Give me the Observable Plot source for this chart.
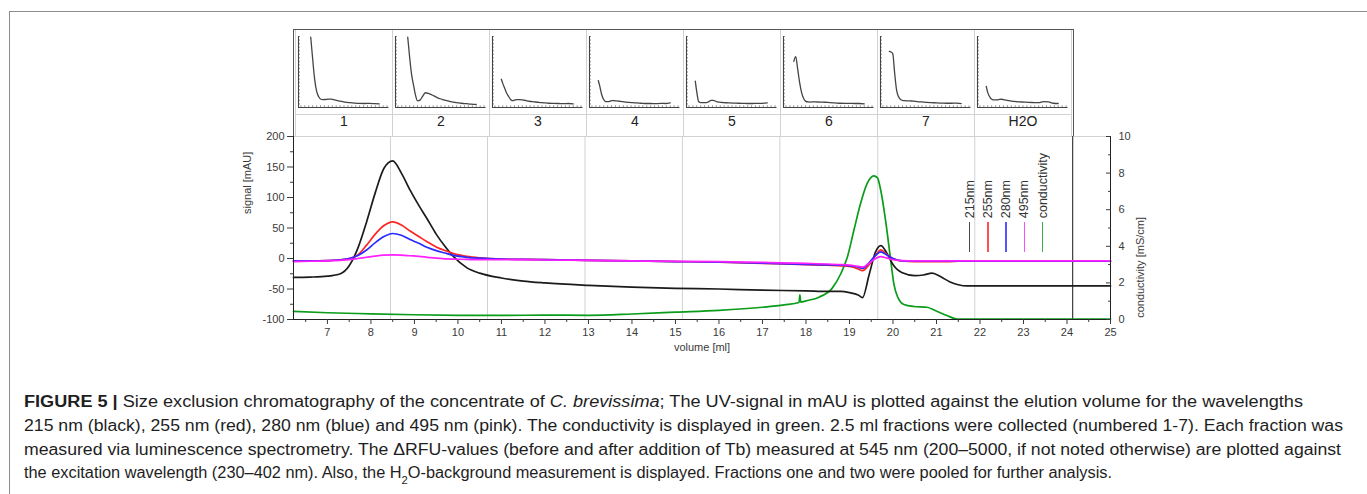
<!DOCTYPE html>
<html><head><meta charset="utf-8">
<script src="https://cdn.jsdelivr.net/npm/d3@7"></script>
<script src="https://cdn.jsdelivr.net/npm/@observablehq/plot@0.6"></script>
<style>
body{margin:0;background:#fff;width:1367px;height:494px;overflow:hidden;position:relative;font-family:"Liberation Sans",Arial,sans-serif;}
#figframe{position:absolute;left:9px;top:11px;width:1400px;height:600px;border:1px solid #8c8c8c;}
#mainwrap,#topwrap,#legend,#cap{position:absolute;left:0;top:0}
#topwrap{left:293px;top:29px}
#topborder{position:absolute;left:293px;top:29px;width:781px;height:107px;border-top:1px solid #555;border-left:1px solid #555;border-right:1px solid #555;box-sizing:border-box}
.lg-line{position:absolute;width:1.6px;height:30px;top:222px}
.lg-text{position:absolute;writing-mode:vertical-rl;transform:rotate(180deg);font-size:12.5px;line-height:14px;color:#333;white-space:nowrap}
</style></head><body>
<div id="figframe"></div>
<div id="mainwrap"></div>
<div id="topwrap"></div>
<div id="topborder"></div>
<div id="legend"></div>
<div id="cap"></div>
<script>
// ---------- data ----------
const fracLabels = ["1","2","3","4","5","6","7","H2O"];
const fracBounds = [6.22, 8.45, 10.68, 12.92, 15.16, 17.4, 19.65, 21.88, 24.13];

// mini spectra: excitation wavelength (nm) vs ΔRFU
const exWl = [243,246,250,254,258,262,266,270,275,280,286,292,300,310,320,330,340,350,360,370,380,390];
const rfu1 = [null,null,4950,3400,2000,1150,775,600,560,565,590,590,520,450,380,340,310,290,280,290,270,250];
const rfu2 = [null,null,4950,3500,2300,1550,850,470,520,760,1040,1000,880,700,580,480,400,350,300,270,240,220];
const rfu3 = [1990,1700,1350,1000,775,560,480,520,560,560,540,500,440,400,360,330,300,290,280,270,280,250];
const rfu4 = [1900,1500,900,560,420,410,430,480,480,460,440,420,380,350,320,300,280,280,270,290,280,320];
const rfu5 = [1850,1100,400,340,340,350,350,400,500,500,420,380,350,330,310,300,290,280,280,290,290,320];
const rfu6 = [null,3250,3580,2700,1750,1050,650,450,390,380,400,390,380,370,340,320,300,290,290,280,280,250];
const rfu7 = [3950,3920,3800,2400,1200,750,560,500,480,470,460,450,420,390,360,340,320,310,300,300,310,280];
const rfuH2O = [1480,1050,750,580,540,530,540,570,580,540,500,470,430,400,380,360,350,340,420,400,300,280];
const miniDomainX = [225, 410];
const miniDomainY = [0, 5000];

// main chromatogram: volume (ml) vs signal (mAU)
const vol = [6.22,6.6,7.0,7.3,7.5,7.7,7.9,8.1,8.3,8.5,8.7,8.9,9.1,9.3,9.5,9.7,9.9,10.2,10.5,11,11.5,12,13,14,15,16,17,18,18.5,18.8,19.0,19.2,19.3,19.45,19.6,19.72,19.85,20.0,20.2,20.5,20.7,20.9,21.1,21.3,21.5,21.7,22,23,24,25];
const a215 = [-31,-30.5,-29,-25,-12,17,60,108,148,160,140,112,87,64,40,20,3,-15,-24,-32,-37,-40,-44,-47,-49,-50,-52,-53,-54,-54,-56,-60,-64,-27,11,21,10,-10,-23,-28,-27,-24,-30,-38,-43,-45,-45,-45,-45,-45];
const a255 = [-4,-4,-3.5,-2,0,6,22,40,54,60,55,45,36,27,19,13,8,3.5,1,-1,-1.5,-2,-3,-4,-5,-6,-8,-10,-11,-12,-13,-17,-20,-10,5,14,7,0,-4,-5,-5,-5,-5,-5,-4.5,-4.5,-4.5,-4.5,-4.5,-4.5];
const a280 = [-4,-4,-3.5,-2,0,5,14,26,36,41,38,31,25,18,13,9,5,2,0.5,-1,-1.5,-2,-3,-4,-5,-6,-7.5,-9.5,-10.5,-11,-12,-14,-16,-7,5,11,6,0,-4,-4.5,-4.5,-4.5,-4.5,-4.5,-4.5,-4.5,-4.5,-4.5,-4.5,-4.5];
const a495 = [-5,-4.5,-4,-3,-2,0,2,4,5.5,6,5.5,4.5,3.5,2,0.5,-0.5,-1,-1.5,-2,-2,-2,-2.5,-3,-4,-4.5,-5,-6.5,-8,-9,-10,-11,-13,-14,-8,0,3,1,-2,-3.5,-4,-4,-4,-4,-4,-4,-4,-4,-4,-4,-4];
// conductivity (mS/cm), right axis
const condVol = [6.22,7,8,9,10,11,12,13,14,15,16,17,17.5,17.84,17.86,17.88,18,18.3,18.6,18.8,18.95,19.1,19.25,19.4,19.56,19.64,19.72,19.83,19.95,20.02,20.11,20.25,20.48,20.78,20.97,21.24,21.47,22,25];
const cond = [0.44,0.37,0.31,0.26,0.23,0.22,0.24,0.23,0.3,0.4,0.5,0.67,0.8,0.93,1.35,0.95,1.02,1.22,1.7,2.5,3.4,4.86,6.3,7.4,7.85,7.75,7.05,5.4,3.2,1.95,1.22,0.82,0.71,0.67,0.49,0.22,0.02,0.02,0.02];

const seriesNames = ["215nm","255nm","280nm","495nm","conductivity"];
const seriesColors = ["#1b1b1b","#ff2424","#2a2aff","#ff1fff","#0a9c1a"];
const yTicks = [-100,-50,0,50,100,150,200];
const yMinor = [-75,-25,25,75,125,175];
const xTicks = d3.range(7, 26);
const xMinor = d3.range(6.5, 25, 1);
const condTicks = [0,2,4,6,8,10];
const condMinor = [1,3,5,7,9];
const signalDomain = [-100, 200];
const condDomain = [0, 10];
const volDomain = [6.22, 25];

// ---------- helpers ----------
const FONT = "'Liberation Sans', Arial, sans-serif";
const condToSignal = c => signalDomain[0] + (c - condDomain[0]) * (signalDomain[1] - signalDomain[0]) / (condDomain[1] - condDomain[0]);
const signalToCond = s => Math.round(condDomain[0] + (s - signalDomain[0]) * (condDomain[1] - condDomain[0]) / (signalDomain[1] - signalDomain[0]));
const noLabel = () => "";

const uvSeries = [a215, a255, a280, a495];
const uvRows = uvSeries.flatMap((arr, k) => arr.map((v, i) => ({vol: vol[i], v, s: seriesNames[k]})));
const condRows = cond.map((c, i) => ({vol: condVol[i], c}));

const rfuAll = [rfu1, rfu2, rfu3, rfu4, rfu5, rfu6, rfu7, rfuH2O];
const miniRows = rfuAll.flatMap((arr, k) => arr.map((v, i) => ({frac: fracLabels[k], wl: exWl[i], v})));

// ---------- main chart ----------
const mainChart = Plot.plot({
  width: 1367, height: 370,
  marginLeft: 293, marginRight: 257, marginTop: 136, marginBottom: 51,
  style: {background: "transparent", fontFamily: FONT, fontSize: "11px", color: "#3a3a3a", overflow: "visible"},
  x: {domain: volDomain, label: null},
  y: {domain: signalDomain, label: null},
  color: {domain: seriesNames, range: seriesColors},
  marks: [
    Plot.ruleX(fracBounds.slice(1, -1), {stroke: "#d2d2d2", strokeWidth: 1}),
    Plot.ruleY([signalDomain[1]], {stroke: "#d2d2d2"}),
    Plot.ruleX([fracBounds[fracBounds.length - 1]], {stroke: "#3c3c3c", strokeWidth: 1.2}),
    Plot.line(condRows, {x: "vol", y: d => condToSignal(d.c), stroke: seriesColors[4], strokeWidth: 1.7, curve: "monotone-x"}),
    Plot.line(uvRows, {x: "vol", y: "v", z: "s", stroke: "s", strokeWidth: 1.7, curve: "monotone-x"}),
    // axis lines
    Plot.ruleX([volDomain[0]], {stroke: "#222"}),
    Plot.ruleX([volDomain[1]], {stroke: "#222"}),
    Plot.ruleY([signalDomain[0]], {stroke: "#222"}),
    // bottom axis
    Plot.axisX({ticks: xTicks, tickSize: 5, tickPadding: 4, tickFormat: d => String(d), label: null}),
    Plot.axisX({ticks: xMinor, tickSize: 3, tickFormat: noLabel, label: null}),
    // left axis
    Plot.axisY({ticks: yTicks, tickSize: 6, tickPadding: 3, tickFormat: d => String(d), label: null}),
    Plot.axisY({ticks: yMinor, tickSize: 3, tickFormat: noLabel, label: null}),
    // right axis (conductivity)
    Plot.axisY({anchor: "right", ticks: condTicks.map(condToSignal), tickSize: -5, tickFormat: noLabel, label: null}),
    Plot.axisY({anchor: "right", ticks: condMinor.map(condToSignal), tickSize: -3, tickFormat: noLabel, label: null}),
    Plot.axisY({anchor: "right", ticks: condTicks.map(condToSignal), tickSize: 0, tickPadding: 8, tickFormat: signalToCond, label: null}),
    // axis titles
    Plot.text(["signal [mAU]"], {text: d => d, frameAnchor: "left", rotate: -90, dx: -46, dy: -14, fontSize: 11, fill: "#3a3a3a"}),
    Plot.text(["volume [ml]"], {text: d => d, frameAnchor: "bottom", dy: 31, fontSize: 11, fill: "#3a3a3a"}),
    Plot.text(["conductivity [mS/cm]"], {text: d => d, frameAnchor: "right", rotate: -90, dx: 30, dy: -11, fontSize: 11, fill: "#3a3a3a"})
  ]
});
document.getElementById("mainwrap").appendChild(mainChart);

// ---------- fraction panels ----------
const panels = Plot.plot({
  width: 780, height: 107,
  marginLeft: 0, marginRight: 0, marginTop: 0, marginBottom: 0,
  style: {background: "transparent", fontFamily: FONT, overflow: "visible"},
  fx: {domain: fracLabels, padding: 0, axis: null, label: null},
  x: {domain: miniDomainX, insetLeft: 3, insetRight: 3.5, axis: null, label: null},
  y: {domain: miniDomainY, insetTop: 7, insetBottom: 29, axis: null, label: null},
  marks: [
    Plot.frame({stroke: "#d2d2d2"}),
    Plot.frame({stroke: "#d2d2d2", insetBottom: 22}),
    Plot.ruleY(d3.range(miniDomainY[0], miniDomainY[1] + 1, 250), {y: d => d, x1: miniDomainX[0], x2: miniDomainX[0] + 4, stroke: "#777", strokeWidth: 0.8}),
    Plot.ruleX(d3.range(230, miniDomainX[1], 8), {x: d => d, y1: miniDomainY[0], y2: 120, stroke: "#777", strokeWidth: 0.8}),
    Plot.ruleX([miniDomainX[0]], {y1: miniDomainY[0], y2: miniDomainY[1], stroke: "#444", strokeWidth: 1.1}),
    Plot.ruleY([miniDomainY[0]], {x1: miniDomainX[0], x2: miniDomainX[1], stroke: "#444", strokeWidth: 1.1}),
    Plot.line(miniRows, {x: "wl", y: "v", fx: "frac", stroke: "#444", strokeWidth: 1.3, curve: "monotone-x"}),
    Plot.text(fracLabels, {fx: d => d, text: d => d, frameAnchor: "bottom", dy: -11, fontSize: 14, fill: "#222"})
  ]
});
document.getElementById("topwrap").appendChild(panels);

// ---------- legend ----------
const lg = document.getElementById("legend");
seriesNames.forEach((name, i) => {
  const cx = 969.5 + i * 18.3;
  const line = document.createElement("div");
  line.className = "lg-line";
  line.style.left = (cx - 0.8) + "px";
  line.style.background = seriesColors[i];
  line.style.opacity = 0.8;
  lg.appendChild(line);
  const t = document.createElement("div");
  t.className = "lg-text";
  t.textContent = name;
  t.style.left = (cx - 7) + "px";
  t.style.top = "0px";
  lg.appendChild(t);
  const h = t.getBoundingClientRect().height;
  t.style.top = (218 - h) + "px";
});

// ---------- caption ----------
const capLines = [
  {y: 407, w: 1279, html: '<tspan font-weight="bold">FIGURE 5 | </tspan>Size exclusion chromatography of the concentrate of <tspan font-style="italic">C. brevissima</tspan>; The UV-signal in mAU is plotted against the elution volume for the wavelengths'},
  {y: 431, w: 1319, html: '215 nm (black), 255 nm (red), 280 nm (blue) and 495 nm (pink). The conductivity is displayed in green. 2.5 ml fractions were collected (numbered 1-7). Each fraction was'},
  {y: 455, w: 1317, html: 'measured via luminescence spectrometry. The ΔRFU-values (before and after addition of Tb) measured at 545 nm (200–5000, if not noted otherwise) are plotted against'},
  {y: 478, w: 1088, html: 'the excitation wavelength (230–402 nm). Also, the H<tspan baseline-shift="sub" font-size="11">2</tspan>O-background measurement is displayed. Fractions one and two were pooled for further analysis.'}
];
const svgNS = "http://www.w3.org/2000/svg";
const cap = document.createElementNS(svgNS, "svg");
cap.setAttribute("width", 1367); cap.setAttribute("height", 494);
cap.setAttribute("font-family", FONT); cap.setAttribute("font-size", 16); cap.setAttribute("fill", "#1e1e1e");
document.getElementById("cap").appendChild(cap);
capLines.forEach(l => {
  const t = document.createElementNS(svgNS, "text");
  t.setAttribute("x", 24); t.setAttribute("y", l.y);
  t.innerHTML = l.html;
  cap.appendChild(t);
  t.setAttribute("textLength", l.w);
  t.setAttribute("lengthAdjust", "spacingAndGlyphs");
});
</script>
</body></html>
